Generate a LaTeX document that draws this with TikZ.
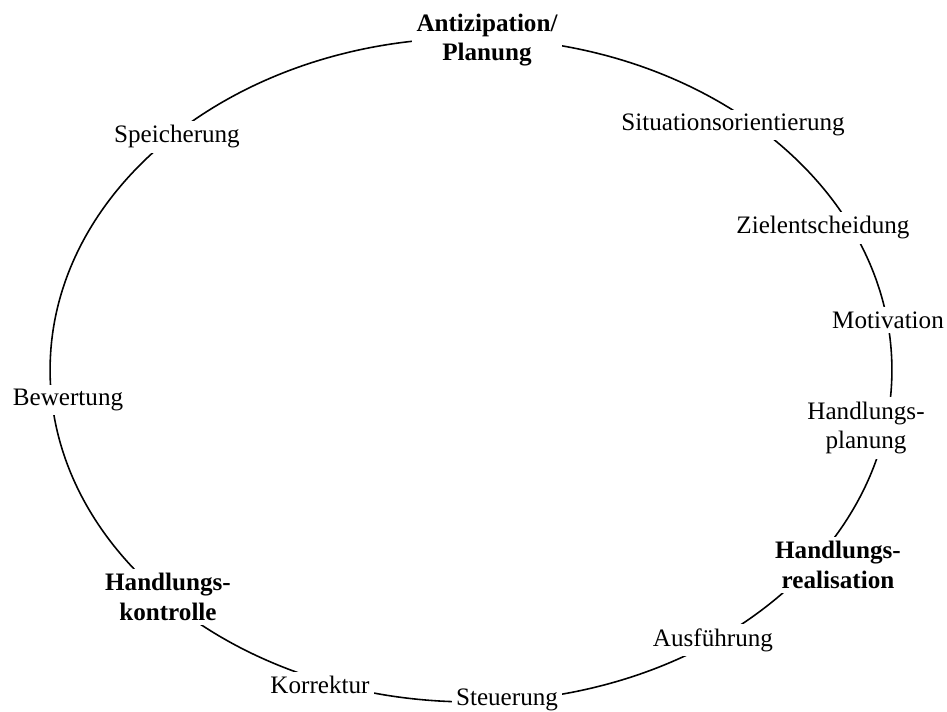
\documentclass[tikz,border=0pt]{standalone}
\usepackage{fontspec}
\setmainfont{Liberation Serif}
\usetikzlibrary{positioning}

\begin{document}
\begin{tikzpicture}[
    x=0.02cm, y=-0.02cm,
    phase/.style={fill=white, inner sep=2.5pt, align=center,
                  font=\fontsize{14.3}{17}\selectfont},
    mainphase/.style={phase, font=\fontsize{14.3}{17}\selectfont\bfseries},
  ]
    \useasboundingbox (0,0) rectangle (947,712);
    % cycle
    \draw[line width=0.9pt] (471,370) ellipse [x radius=8.42cm, y radius=6.64cm];
    % phases
    \node[mainphase] (antizipation) at (487,40) {Antizipation/\\Planung};
    \node[phase] (situation)   at (733,125) {Situationsorientierung};
    \node[phase] (ziel)        at (823,228) {Zielentscheidung};
    \node[phase] (motivation)  at (888,320) {Motivation};
    \node[phase] (planung)     at (866,428) {Handlungs-\\planung};
    \node[mainphase] (realisation) at (838,565) {Handlungs-\\realisation};
    \node[phase] (ausfuehrung) at (713,640) {Ausführung};
    \node[phase] (steuerung)   at (507,700) {Steuerung};
    \node[phase] (korrektur)   at (320,685) {Korrektur};
    \node[mainphase] (kontrolle) at (168,597) {Handlungs-\\kontrolle};
    \node[phase] (bewertung)   at (68,400) {Bewertung};
    \node[phase] (speicherung) at (177,137) {Speicherung};
  \end{tikzpicture}
\end{document}
